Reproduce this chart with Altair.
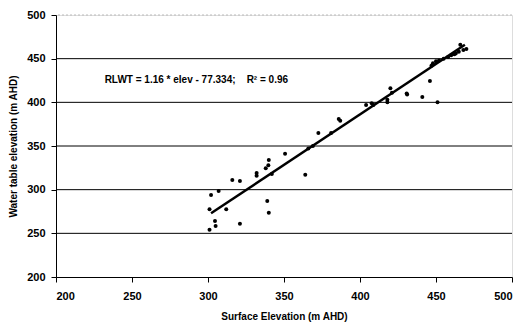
import altair as alt
import pandas as pd

surface = [302, 307, 301, 312, 304.6, 305, 301, 321, 316, 321, 332, 332, 340, 339.7, 338, 342, 350.7,
           339, 340, 364, 372.6, 381, 386, 387, 404, 407.7, 408.8, 418, 421, 431, 430.7, 441, 451,
           446, 448, 447, 450, 452, 455, 458, 460, 462, 463, 465, 468, 470, 466, 366, 369, 420, 418]
water = [294, 298.5, 277.5, 277.5, 264, 258.5, 254, 261, 311, 310, 319, 316, 334, 328, 324.5, 318, 341,
         287, 273.6, 317, 365, 365, 381, 379, 397, 399, 397, 400, 411, 409, 410, 406, 400,
         424.5, 444.8, 442, 447, 448, 450, 452, 454, 455, 456, 458, 460, 461, 466, 347, 350, 416, 403]

fit_x = [302, 469]
fit_y = [273, 466]

grid_vals = [250, 300, 350, 400, 450]
top_val = [500]

label = "RLWT = 1.16 * elev - 77.334;\u00a0\u00a0\u00a0 R\u00b2 = 0.96"

pts = pd.DataFrame({"x": surface, "y": water})
fit = pd.DataFrame({"x": fit_x, "y": fit_y})
grid = pd.DataFrame({"y": grid_vals})
top = pd.DataFrame({"y": top_val})
ann = pd.DataFrame({"x": [232], "y": [426], "t": [label]})

FONT = "Liberation Sans"

xs = alt.Scale(domain=[200, 500], nice=False)
ys = alt.Scale(domain=[200, 500], nice=False)

xaxis = alt.Axis(values=[200, 250, 300, 350, 400, 450, 500], grid=False, title="Surface Elevation (m AHD)",
                 labelFont=FONT, labelFontWeight="bold", labelFontSize=11, labelColor="black",
                 titleFont=FONT, titleFontWeight="bold", titleFontSize=10, titleColor="black",
                 domainColor="black", tickColor="black", tickSize=5, labelPadding=8, titlePadding=10)
yaxis = alt.Axis(values=[200, 250, 300, 350, 400, 450, 500], grid=False, title="Water table elevation (m AHD)",
                 labelFont=FONT, labelFontWeight="bold", labelFontSize=11, labelColor="black",
                 titleFont=FONT, titleFontWeight="bold", titleFontSize=10, titleColor="black",
                 domainColor="black", tickColor="black", tickSize=5, labelPadding=6, titlePadding=8)

gridlines = alt.Chart(grid).mark_rule(color="black", strokeWidth=1).encode(
    y=alt.Y("y:Q", scale=ys, axis=yaxis))
topline = alt.Chart(top).mark_rule(color="#bbbbbb", strokeWidth=1, strokeDash=[2, 2]).encode(
    y=alt.Y("y:Q", scale=ys))

points = alt.Chart(pts).mark_circle(color="black", size=16, opacity=1).encode(
    x=alt.X("x:Q", scale=xs, axis=xaxis),
    y=alt.Y("y:Q", scale=ys))

line = alt.Chart(fit).mark_line(color="black", strokeWidth=2.5).encode(
    x=alt.X("x:Q", scale=xs), y=alt.Y("y:Q", scale=ys))

text = alt.Chart(ann).mark_text(align="left", baseline="middle", font=FONT, fontWeight="bold",
                                fontSize=10, color="black").encode(
    x=alt.X("x:Q", scale=xs), y=alt.Y("y:Q", scale=ys), text="t:N")

chart = alt.layer(gridlines, topline, points, line, text).properties(
    width=456, height=262,
    autosize=alt.AutoSizeParams(type="none"),
    padding={"left": 48, "top": 7, "right": 2, "bottom": 45},
).configure_view(stroke=None).configure(background="white")

chart.save("out.html", embed_options={"renderer": "svg", "actions": False})
